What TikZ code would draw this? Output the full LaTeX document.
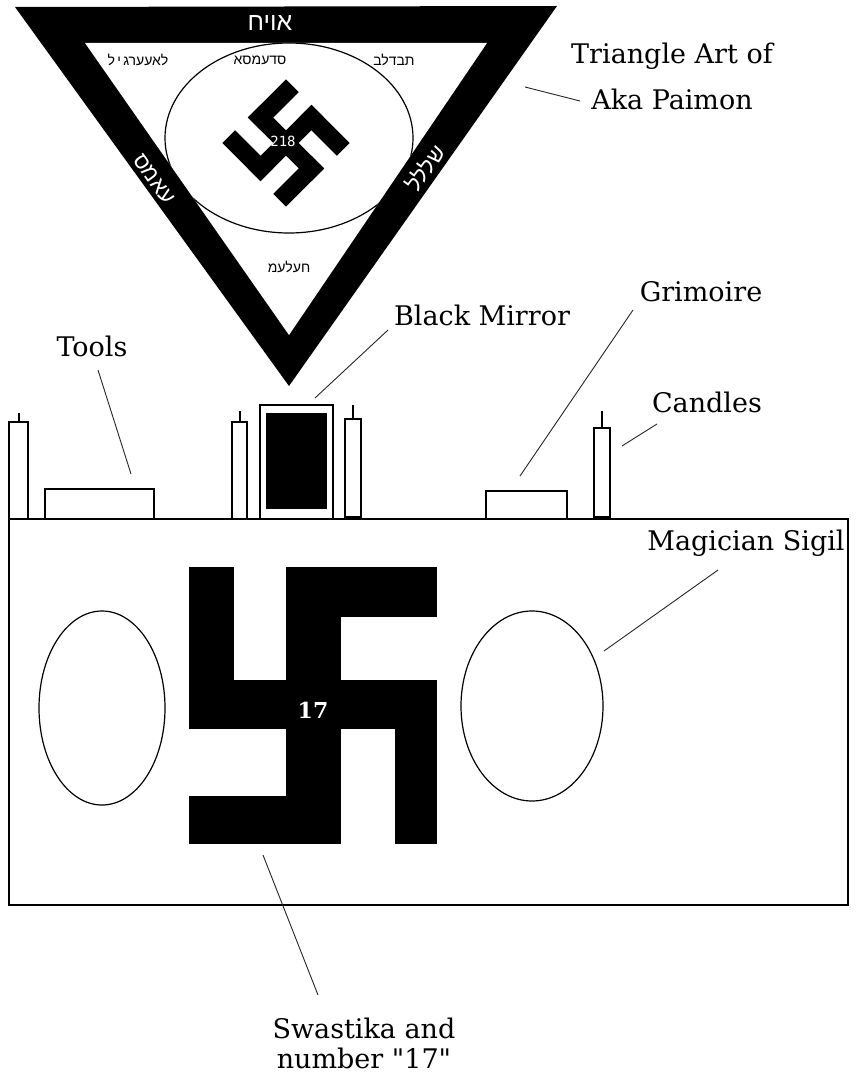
\documentclass[tikz,border=0pt]{standalone}
\usepackage{fontspec}
\setmainfont{DejaVu Serif}
\newfontfamily\qfont{DejaVu Serif}
\newfontfamily\heb[Script=Hebrew]{Liberation Sans}
\newfontfamily\monof{DejaVu Sans Mono}
\TeXXeTstate=1
\begin{document}
\begin{tikzpicture}[x=1pt,y=-1pt,
  lbl/.style={font=\fontsize{27}{32}\selectfont, inner sep=0pt, align=center},
  lead/.style={line width=0.9pt, draw=black!85},
  obj/.style={draw=black, line width=1.3pt, fill=white},
  hebw/.style={text=white, inner sep=0pt},
  hebb/.style={text=black, inner sep=0pt},
  swa/.style={fill=black},
]
\useasboundingbox (0,0) rectangle (855,1078);
\fill[white] (0,0) rectangle (855,1078);

% ---------- triangle of art ----------
\fill[black] (15,7) -- (557,6) -- (289,386) -- cycle;
\fill[white] (85,43) -- (487,43) -- (289,335) -- cycle;
\begin{scope}
  \clip (85,43) -- (487,43) -- (289,335) -- cycle;
  \draw[line width=1.2pt] (289,138) ellipse [x radius=124, y radius=95];
\end{scope}

% small rotated swastika
\begin{scope}[shift={(286,143)}, rotate=-45, scale=18]
  \begin{scope}[shift={(-2.5,-2.5)}]
    \fill[swa] (0,0) rectangle (1,3);
    \fill[swa] (0,2) rectangle (5,3);
    \fill[swa] (2,0) rectangle (3,5);
    \fill[swa] (2,0) rectangle (5,1);
    \fill[swa] (4,2) rectangle (5,5);
    \fill[swa] (0,4) rectangle (3,5);
  \end{scope}
\end{scope}
\node[text=white, inner sep=0pt, font=\monof\fontsize{14}{14}\selectfont] (n218) at (283,141) {218};

% Hebrew texts
\node[hebw, font=\heb\fontsize{25}{25}\selectfont] (htop) at (270,23) {\beginR אויח\endR};
\node[hebb, font=\heb\fontsize{14}{14}\selectfont] (hl) at (138,60) {\beginR לאעערג\,י\,ל\endR};
\node[hebb, font=\heb\fontsize{14}{14}\selectfont] (hc) at (260,60) {\beginR סדעמסא\endR};
\node[hebb, font=\heb\fontsize{14}{14}\selectfont] (hr) at (394,60) {\beginR תבדלב\endR};
\node[hebb, font=\heb\fontsize{14}{14}\selectfont] (hb) at (289,267) {\beginR חעלעמ\endR};
\node[hebw, rotate=-54, font=\heb\fontsize{22}{22}\selectfont] (hsl) at (154,179) {\beginR עאמס\endR};
\node[hebw, rotate=54, font=\heb\fontsize{22}{22}\selectfont] (hsr) at (425,168) {\beginR שללל\endR};

% ---------- altar objects ----------
% candles (wick + body)
\coordinate (w1a) at (19,413); \coordinate (w1b) at (19,422);
\draw[line width=1.2pt] (w1a) -- (w1b);
\draw[obj] (9,422) rectangle (28,519);
\coordinate (w2a) at (240,411); \coordinate (w2b) at (240,422);
\draw[line width=1.2pt] (w2a) -- (w2b);
\draw[obj] (232,422) rectangle (247,519);
\coordinate (w3a) at (353,405); \coordinate (w3b) at (353,419);
\draw[line width=1.2pt] (w3a) -- (w3b);
\draw[obj] (345,419) rectangle (361,517);
\coordinate (w4a) at (602,411); \coordinate (w4b) at (602,428);
\draw[line width=1.2pt] (w4a) -- (w4b);
\draw[obj] (594,428) rectangle (610,517);
% tools, mirror, grimoire
\draw[obj] (45,489) rectangle (154,519);
\draw[obj] (260,405) rectangle (333,519);
\fill[black] (266,413) rectangle (327,509);
\draw[obj] (486,491) rectangle (567,519);

% altar
\draw[draw=black, line width=1.3pt] (9,519) rectangle (848,905);
\draw[line width=1.2pt] (102,708) ellipse [x radius=63, y radius=97];
\draw[line width=1.2pt] (532,706) ellipse [x radius=71, y radius=95];

% big swastika
\fill[swa] (189,567) rectangle (234,729);
\fill[swa] (189,680) rectangle (437,729);
\fill[swa] (286,567) rectangle (341,844);
\fill[swa] (286,567) rectangle (437,617);
\fill[swa] (395,680) rectangle (437,844);
\fill[swa] (189,796) rectangle (341,844);
\node[text=white, inner sep=0pt, font=\bfseries\fontsize{22}{22}\selectfont] (n17) at (313,710) {17};

% ---------- labels and leaders ----------
\node[lbl] (ltri) at (672,76) {Triangle Art of\\[14pt]Aka Paimon};
\node[lbl] (ltools) at (92,346) {Tools};
\node[lbl] (lmirror) at (482,315) {Black Mirror};
\node[lbl] (lgrim) at (701,292) {Grimoire};
\node[lbl] (lcand) at (707,402) {Candles};
\node[lbl] (lsigil) at (746,543) {Magician Sigil};
\node[lbl, font=\fontsize{27}{30}\selectfont] (lswa) at (364,1043) {Swastika and\\number {\qfont"}17{\qfont"}};

\coordinate (a1) at (525,87);  \coordinate (b1) at (580,101);
\coordinate (a2) at (315,398); \coordinate (b2) at (388,330);
\coordinate (a3) at (131,474); \coordinate (b3) at (98,370);
\coordinate (a4) at (520,476); \coordinate (b4) at (633,310);
\coordinate (a5) at (622,446); \coordinate (b5) at (657,424);
\coordinate (a6) at (604,651); \coordinate (b6) at (718,570);
\coordinate (a7) at (263,855); \coordinate (b7) at (318,995);
\draw[lead] (a1) -- (b1);
\draw[lead] (a2) -- (b2);
\draw[lead] (a3) -- (b3);
\draw[lead] (a4) -- (b4);
\draw[lead] (a5) -- (b5);
\draw[lead] (a6) -- (b6);
\draw[lead] (a7) -- (b7);
\end{tikzpicture}
\end{document}
